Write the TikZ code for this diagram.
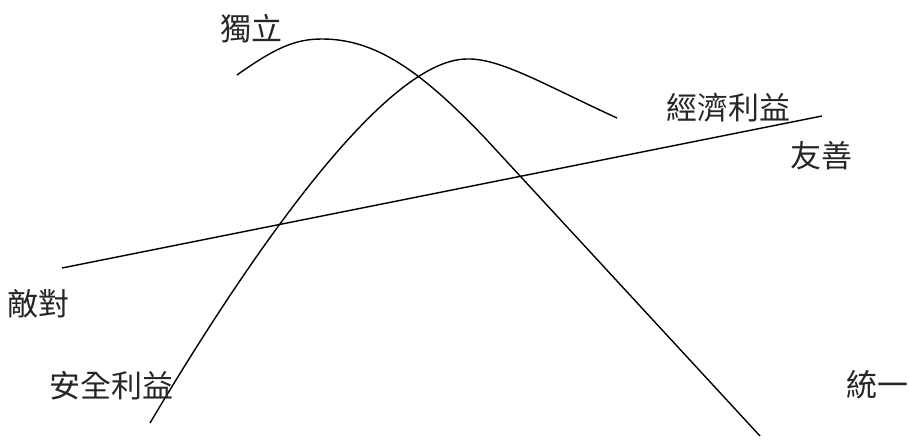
\documentclass[tikz,border=0pt]{standalone}
\usepackage{fontspec}
\newfontfamily\cjk{Noto Sans CJK TC}
\begin{document}
\begin{tikzpicture}[x=1pt,y=-1pt,
  lbl/.style={font=\cjk\fontsize{31}{31}\selectfont\color{black!85}, inner sep=0pt},
  crv/.style={line width=1.4pt, black}]
\useasboundingbox[fill=white] (0,0) rectangle (909,442);
% curves
\draw[crv] (237,75) .. controls (275,48) and (295,39) .. (322,39)
  .. controls (375,39) and (420,70) .. (485,138) -- (760,436);
\draw[crv] (150,423) .. controls (235,280) and (380,59) .. (467,59)
  .. controls (500,58) and (545,85) .. (617,118);
\coordinate (la) at (62,268);
\coordinate (lb) at (822,116);
\draw[crv] (la) -- (lb);
% labels
\node[lbl] (duli) at (251,29) {獨立};
\node[lbl] (didui) at (38,304) {敵對};
\node[lbl] (anquan) at (111,386) {安全利益};
\node[lbl] (jingji) at (728,108) {經濟利益};
\node[lbl] (youshan) at (821,156) {友善};
\node[lbl] (tongyi) at (877,385) {統一};
\end{tikzpicture}
\end{document}
